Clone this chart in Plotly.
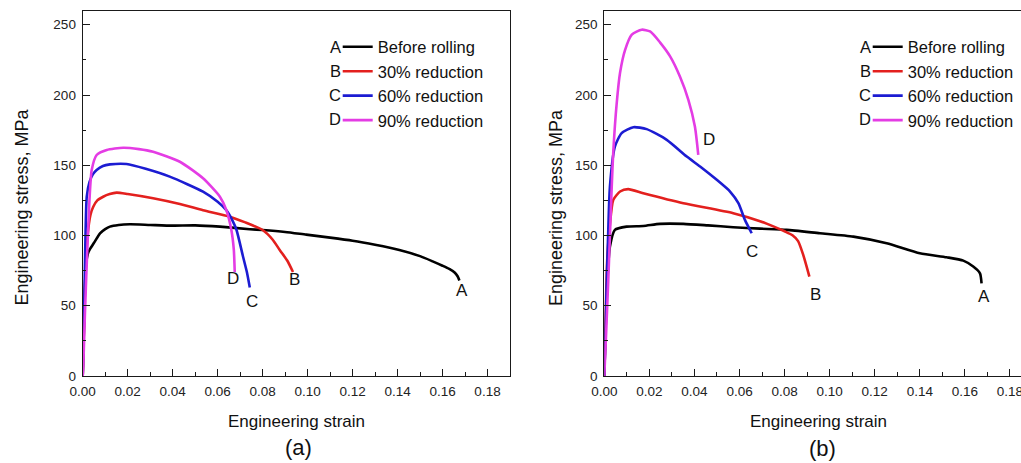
import plotly.graph_objects as go

# Figure fills the whole 1021x463 window; the page's default body margin is removed after drawing.
OFF = 0
FW, FH = 1021, 463

# ---------------- data: panel (a) ----------------
a_A_strain = [0, 0.0008, 0.0015, 0.0025, 0.0035, 0.0055, 0.0077, 0.0100, 0.0121, 0.016, 0.021, 0.03, 0.04, 0.05,
              0.061, 0.0743, 0.080, 0.090, 0.0994, 0.110, 0.120, 0.130, 0.1408, 0.150, 0.1556, 0.160, 0.163,
              0.1655, 0.1667, 0.1675]
a_A_stress = [0, 50, 80, 88, 91, 96, 101.5, 104.5, 106.3, 107.5, 108, 107.5, 107, 107.2, 106.3, 104.5, 103.9,
              102.5, 100.6, 98.5, 96.3, 93.4, 89.7, 85.3, 81.6, 78.5, 76.2, 73.5, 71, 68]

a_B_strain = [0, 0.0008, 0.0015, 0.0025, 0.0035, 0.0047, 0.0065, 0.0091, 0.012, 0.0151, 0.02, 0.0313, 0.0432,
              0.0535, 0.0654, 0.072, 0.080, 0.0845, 0.0876, 0.091, 0.0935]
a_B_stress = [0, 50, 85, 105, 115, 120.5, 125, 127.6, 129.5, 130.5, 129.5, 126.5, 122.4, 118, 113.4, 109.5,
              103.9, 97, 89.7, 82, 74]

a_C_strain = [0, 0.0008, 0.0018, 0.003, 0.0045, 0.0062, 0.009, 0.0121, 0.0195, 0.028, 0.0387, 0.0535, 0.0600,
              0.0639, 0.0665, 0.0684, 0.0713, 0.073, 0.0743]
a_C_stress = [0, 60, 127.6, 138, 143.5, 146.6, 149.5, 150.6, 150.9, 147.5, 141.9, 131.2, 124, 118, 111, 103.9,
              84.9, 74, 63]

a_D_strain = [0, 0.0003, 0.0010, 0.0018, 0.003, 0.004, 0.0062, 0.0107, 0.018, 0.025, 0.0313, 0.0432, 0.0535,
              0.061, 0.0639, 0.0661, 0.0672, 0.0676]
a_D_stress = [0, 9, 45, 80, 125, 146.6, 157.3, 160.9, 162.5, 161.5, 159.6, 152.5, 140.7, 127.6, 118, 103.9,
              89.7, 74]

# ---------------- data: panel (b) ----------------
b_A_strain = [0, 0.0008, 0.0016, 0.0025, 0.0047, 0.0099, 0.0173, 0.0247, 0.0351, 0.0460, 0.0572, 0.0691, 0.0809,
              0.0957, 0.1105, 0.1253, 0.14, 0.1519, 0.1593, 0.1637, 0.1667, 0.1674]
b_A_stress = [0, 45, 75, 92.1, 104, 106.3, 106.8, 108.3, 108.3, 107.2, 105.9, 104.9, 104, 101.6, 99.2, 94.5,
              87.4, 84.5, 82.1, 77.9, 73.1, 66]

b_B_strain = [0, 0.0006, 0.0013, 0.0025, 0.004, 0.007, 0.0106, 0.0173, 0.0351, 0.0572, 0.0691, 0.0750, 0.0800,
              0.0835, 0.0860, 0.0883, 0.091]
b_B_stress = [0, 45, 82.6, 108, 125.4, 131.3, 133, 130.1, 123, 115.9, 110.2, 106.5, 103, 100.2, 96, 86, 70.8]

b_C_strain = [0, 0.0008, 0.0016, 0.0025, 0.0047, 0.0077, 0.0129, 0.0188, 0.0277, 0.0366, 0.0425, 0.0499, 0.0558,
              0.0595, 0.0624, 0.0654]
b_C_stress = [0, 50, 95, 134.8, 163.3, 172.9, 177.1, 175.7, 168.1, 156.2, 149.1, 139.6, 131.3, 123, 111.1,
              101.6]

b_D_strain = [0, 0.0008, 0.0018, 0.0025, 0.0033, 0.004, 0.0055, 0.007, 0.0092, 0.0122, 0.0166, 0.0203, 0.0247,
              0.0292, 0.0336, 0.0373, 0.0402, 0.0417]
b_D_stress = [0, 30, 70, 100, 135, 160, 194, 216, 232, 243, 246.5, 245.2, 237.5, 227.5, 213, 196.6, 177.6, 157.4]

series_letters = ["A", "B", "C", "D"]
series_names = ["Before rolling", "30% reduction", "60% reduction", "90% reduction"]
series_colors = ["#000000", "#e3201e", "#1c1cd2", "#e43ce4"]

# end-of-curve label positions (strain, stress)
a_label_x = [0.1685, 0.0942, 0.0753, 0.0668]
a_label_y = [61.2, 68.8, 52.9, 69.5]
b_label_x = [0.1686, 0.0935, 0.0657, 0.0466]
b_label_y = [56.5, 57.7, 88.6, 168.1]

x_ticks = [0.00, 0.02, 0.04, 0.06, 0.08, 0.10, 0.12, 0.14, 0.16, 0.18]
y_ticks = [0, 50, 100, 150, 200, 250]

FONT = "Arial, Liberation Sans, sans-serif"


def px_x(p):
    return (p - OFF) / FW


def px_y(p):
    return 1 - (p - OFF) / FH


fig = go.Figure()

panel_a = [(a_A_strain, a_A_stress), (a_B_strain, a_B_stress), (a_C_strain, a_C_stress), (a_D_strain, a_D_stress)]
panel_b = [(b_A_strain, b_A_stress), (b_B_strain, b_B_stress), (b_C_strain, b_C_stress), (b_D_strain, b_D_stress)]

for i, (xs, ys) in enumerate(panel_a):
    fig.add_trace(go.Scatter(x=xs, y=ys, mode="lines", name=series_names[i],
                             line=dict(color=series_colors[i], width=2.6, shape="spline", smoothing=0.6),
                             xaxis="x", yaxis="y", legend="legend"))
for i, (xs, ys) in enumerate(panel_b):
    fig.add_trace(go.Scatter(x=xs, y=ys, mode="lines", name=series_names[i],
                             line=dict(color=series_colors[i], width=2.6, shape="spline", smoothing=0.6),
                             xaxis="x2", yaxis="y2", legend="legend2"))

axis_common = dict(
    showline=True, linecolor="#1a1a1a", linewidth=1.2, ticks="inside", ticklen=7, tickwidth=1.1,
    tickcolor="#1a1a1a", showgrid=False, zeroline=False,
    tickfont=dict(family=FONT, size=13.5, color="#222"),
)
minor_x = dict(dtick=0.01, ticklen=3.5, ticks="inside", tickcolor="#1a1a1a", showgrid=False)
minor_y = dict(dtick=25, ticklen=3.5, ticks="inside", tickcolor="#1a1a1a", showgrid=False)

ydom = [px_y(376), px_y(10.7)]

LEG_TOP = 29.5
LEG_A_X = 337.7
LEG_B_X = 867.7

fig.update_layout(
    width=FW, height=FH, margin=dict(l=0, r=0, t=0, b=0, autoexpand=False),
    paper_bgcolor="white", plot_bgcolor="white",
    xaxis=dict(axis_common, domain=[px_x(82.7), px_x(510)], range=[0, 0.19], tickvals=x_ticks,
               tickformat=".2f", mirror=True, anchor="y", ticklabelstandoff=3, minor=minor_x),
    yaxis=dict(axis_common, domain=ydom, range=[0, 260], tickvals=y_ticks, mirror=True, anchor="x",
               ticklabelstandoff=3, minor=minor_y),
    xaxis2=dict(axis_common, domain=[px_x(604.3), 1.0], range=[0, 0.1849], tickvals=x_ticks,
                tickformat=".2f", mirror=True, anchor="y2", ticklabeloverflow="allow",
                ticklabelstandoff=3, minor=minor_x),
    yaxis2=dict(axis_common, domain=ydom, range=[0, 260], tickvals=y_ticks, mirror=False, anchor="x2",
                ticklabelstandoff=3, minor=minor_y),
    legend=dict(x=px_x(LEG_A_X), y=px_y(LEG_TOP), xanchor="left", yanchor="top", bgcolor="rgba(0,0,0,0)",
                font=dict(family=FONT, size=16.5, color="#111"), tracegroupgap=0),
    legend2=dict(x=px_x(LEG_B_X), y=px_y(LEG_TOP), xanchor="left", yanchor="top", bgcolor="rgba(0,0,0,0)",
                 font=dict(family=FONT, size=16.5, color="#111"), tracegroupgap=0),
)

ann = []


def paper_text(text, x, y, size, angle=0, xanchor="center"):
    ann.append(dict(text=text, x=px_x(x), y=px_y(y), xref="paper", yref="paper", xanchor=xanchor,
                    yanchor="middle", textangle=angle, showarrow=False,
                    font=dict(family=FONT, size=size, color="#111")))


# axis titles and panel labels
paper_text("Engineering stress, MPa", 21.5, 207, 18, angle=-90)
paper_text("Engineering stress, MPa", 556.5, 207.5, 18, angle=-90)
paper_text("Engineering strain", 296.5, 421.7, 17)
paper_text("Engineering strain", 818, 421.7, 17)
paper_text("(a)", 298, 447.5, 22)
paper_text("(b)", 822, 448, 22)

# curve end letters
for i in range(4):
    ann.append(dict(text=series_letters[i], x=a_label_x[i], y=a_label_y[i], xref="x", yref="y",
                    xanchor="center", yanchor="middle", showarrow=False,
                    font=dict(family=FONT, size=17, color="#111")))
    ann.append(dict(text=series_letters[i], x=b_label_x[i], y=b_label_y[i], xref="x2", yref="y2",
                    xanchor="center", yanchor="middle", showarrow=False,
                    font=dict(family=FONT, size=17, color="#111")))

# letters in front of legend samples
rows = [46.7, 71, 95, 119]
for i in range(4):
    paper_text(series_letters[i], LEG_A_X + 5, rows[i], 16.5, xanchor="right")
    paper_text(series_letters[i], LEG_B_X + 5, rows[i], 16.5, xanchor="right")

fig.update_layout(annotations=ann)

fig.write_html("out.html", config={"displayModeBar": False},
               post_script="document.body.style.margin='0';document.body.style.overflow='hidden';")
